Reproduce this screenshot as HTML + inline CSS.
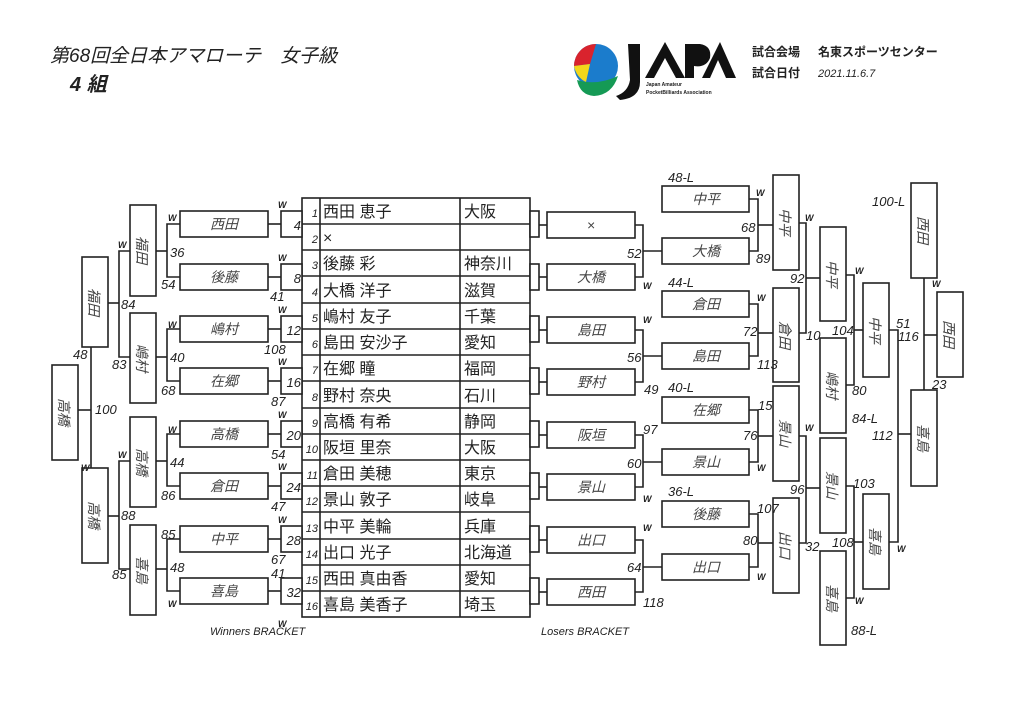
<!DOCTYPE html>
<html><head><meta charset="utf-8">
<style>
html,body{margin:0;padding:0;background:#fff;}
svg{display:block;}
.b{fill:#fff;stroke:#222;stroke-width:1.6;}
.l{stroke:#222;stroke-width:1.6;fill:none;}
.n{font-family:"Liberation Sans",sans-serif;font-style:italic;font-size:13px;fill:#222;}
.w{font-family:"Liberation Sans",sans-serif;font-style:italic;font-weight:bold;font-size:9px;fill:#222;}
.j{font-family:"Liberation Sans","Noto Sans CJK JP",sans-serif;font-size:14px;fill:#444;font-style:italic;}
.t{font-family:"Liberation Sans","Noto Sans CJK JP",sans-serif;font-size:16px;fill:#222;}
.s{font-family:"Liberation Sans",sans-serif;font-style:italic;font-size:11px;fill:#222;}
</style></head><body>
<svg width="1024" height="724" viewBox="0 0 1024 724" xmlns="http://www.w3.org/2000/svg">
<text x="50" y="62" font-family="Liberation Sans,Noto Sans CJK JP,sans-serif" font-size="19" font-style="italic" fill="#222">第68回全日本アマローテ　女子級</text>
<text x="70" y="91" font-family="Liberation Sans,Noto Sans CJK JP,sans-serif" font-size="20" font-style="italic" font-weight="bold" fill="#222">4 組</text>
<circle cx="596" cy="66" r="22" fill="#1b7ccc"/>
<path d="M596 44 A22 22 0 0 0 574 66 L590 64 Z" fill="#d9232d"/>
<path d="M574 66 L590 64 L586 82 A22 22 0 0 1 574 66Z" fill="#f3d71b"/>
<path d="M577 80 Q597 86 618 76 Q612 95 594 96 Q580 95 577 80Z" fill="#159a55"/>
<path d="M628 44 L640 44 L640 82 Q640 98 620 100 L616 96 Q628 92 630 80Z" fill="#111"/>
<path d="M645 78 L665 42 L685 78 L676 78 L665 58 L654 78Z" fill="#111"/>
<path d="M685 44 L700 44 Q712 46 710 58 Q706 68 694 66 L694 78 L685 78Z" fill="#111"/>
<path d="M702 78 L720 42 L736 78 L726 78 L718 60 L710 78Z" fill="#111"/>
<text x="646" y="86" font-family="Liberation Sans,sans-serif" font-size="5" font-weight="bold" fill="#222">Japan Amateur</text>
<text x="646" y="94" font-family="Liberation Sans,sans-serif" font-size="5" font-weight="bold" fill="#222">PocketBilliards Association</text>
<text x="752" y="56" font-family="Liberation Sans,Noto Sans CJK JP,sans-serif" font-size="12" font-weight="bold" fill="#222">試合会場</text>
<text x="818" y="56" font-family="Liberation Sans,Noto Sans CJK JP,sans-serif" font-size="12" font-weight="bold" fill="#222">名東スポーツセンター</text>
<text x="752" y="77" font-family="Liberation Sans,Noto Sans CJK JP,sans-serif" font-size="12" font-weight="bold" fill="#222">試合日付</text>
<text x="818" y="77" font-family="Liberation Sans,sans-serif" font-size="11" font-style="italic" fill="#222">2021.11.6.7</text>

<rect x="302" y="198" width="228" height="419" class="b"/>
<g class="l">
<line x1="320" y1="198" x2="320" y2="617"/><line x1="460" y1="198" x2="460" y2="617"/>
<line x1="302" y1="224" x2="530" y2="224"/><line x1="302" y1="250" x2="530" y2="250"/>
<line x1="302" y1="276" x2="530" y2="276"/><line x1="302" y1="303" x2="530" y2="303"/>
<line x1="302" y1="329" x2="530" y2="329"/><line x1="302" y1="355" x2="530" y2="355"/>
<line x1="302" y1="381" x2="530" y2="381"/><line x1="302" y1="408" x2="530" y2="408"/>
<line x1="302" y1="434" x2="530" y2="434"/><line x1="302" y1="460" x2="530" y2="460"/>
<line x1="302" y1="486" x2="530" y2="486"/><line x1="302" y1="512" x2="530" y2="512"/>
<line x1="302" y1="539" x2="530" y2="539"/><line x1="302" y1="565" x2="530" y2="565"/>
<line x1="302" y1="591" x2="530" y2="591"/>
</g>
<g class="s" text-anchor="end">
<text x="318" y="217">1</text><text x="318" y="243">2</text><text x="318" y="269">3</text><text x="318" y="296">4</text>
<text x="318" y="322">5</text><text x="318" y="348">6</text><text x="318" y="374">7</text><text x="318" y="401">8</text>
<text x="318" y="427">9</text><text x="318" y="453">10</text><text x="318" y="479">11</text><text x="318" y="505">12</text>
<text x="318" y="532">13</text><text x="318" y="558">14</text><text x="318" y="584">15</text><text x="318" y="610">16</text>
</g>
<g class="t">
<text x="323" y="217">西田 恵子</text><text x="323" y="243">×</text><text x="323" y="269">後藤 彩</text><text x="323" y="296">大橋 洋子</text>
<text x="323" y="322">嶋村 友子</text><text x="323" y="348">島田 安沙子</text><text x="323" y="374">在郷 瞳</text><text x="323" y="401">野村 奈央</text>
<text x="323" y="427">高橋 有希</text><text x="323" y="453">阪垣 里奈</text><text x="323" y="479">倉田 美穂</text><text x="323" y="505">景山 敦子</text>
<text x="323" y="532">中平 美輪</text><text x="323" y="558">出口 光子</text><text x="323" y="584">西田 真由香</text><text x="323" y="610">喜島 美香子</text>
<text x="464" y="217">大阪</text><text x="464" y="269">神奈川</text><text x="464" y="296">滋賀</text>
<text x="464" y="322">千葉</text><text x="464" y="348">愛知</text><text x="464" y="374">福岡</text><text x="464" y="401">石川</text>
<text x="464" y="427">静岡</text><text x="464" y="453">大阪</text><text x="464" y="479">東京</text><text x="464" y="505">岐阜</text>
<text x="464" y="532">兵庫</text><text x="464" y="558">北海道</text><text x="464" y="584">愛知</text><text x="464" y="610">埼玉</text>
</g>

<g class="b">
<rect x="281" y="211" width="21" height="26"/><rect x="281" y="264" width="21" height="26"/>
<rect x="281" y="316" width="21" height="26"/><rect x="281" y="368" width="21" height="26"/>
<rect x="281" y="421" width="21" height="26"/><rect x="281" y="473" width="21" height="26"/>
<rect x="281" y="526" width="21" height="26"/><rect x="281" y="578" width="21" height="26"/>
</g>
<g class="n" text-anchor="end">
<text x="301" y="230">4</text><text x="301" y="283">8</text><text x="301" y="335">12</text><text x="301" y="387">16</text>
<text x="301" y="440">20</text><text x="301" y="492">24</text><text x="301" y="545">28</text><text x="301" y="597">32</text>
</g>
<g class="l">
<line x1="268" y1="224" x2="281" y2="224"/><line x1="268" y1="277" x2="281" y2="277"/>
<line x1="268" y1="329" x2="281" y2="329"/><line x1="268" y1="381" x2="281" y2="381"/>
<line x1="268" y1="434" x2="281" y2="434"/><line x1="268" y1="486" x2="281" y2="486"/>
<line x1="268" y1="539" x2="281" y2="539"/><line x1="268" y1="591" x2="281" y2="591"/>
</g>
<g class="b">
<rect x="180" y="211" width="88" height="26"/><rect x="180" y="264" width="88" height="26"/>
<rect x="180" y="316" width="88" height="26"/><rect x="180" y="368" width="88" height="26"/>
<rect x="180" y="421" width="88" height="26"/><rect x="180" y="473" width="88" height="26"/>
<rect x="180" y="526" width="88" height="26"/><rect x="180" y="578" width="88" height="26"/>
</g>
<g class="j" text-anchor="middle">
<text x="224" y="229">西田</text><text x="224" y="282">後藤</text><text x="224" y="334">嶋村</text><text x="224" y="386">在郷</text>
<text x="224" y="439">高橋</text><text x="224" y="491">倉田</text><text x="224" y="544">中平</text><text x="224" y="596">喜島</text>
</g>
<g class="l">
<polyline points="180,224 167,224 167,277 180,277"/><line x1="156" y1="251" x2="167" y2="251"/>
<polyline points="180,329 167,329 167,381 180,381"/><line x1="156" y1="357" x2="167" y2="357"/>
<polyline points="180,434 167,434 167,486 180,486"/><line x1="156" y1="461" x2="167" y2="461"/>
<polyline points="180,539 167,539 167,591 180,591"/><line x1="156" y1="569" x2="167" y2="569"/>
<polyline points="130,251 119,251 119,357 130,357"/><line x1="108" y1="303" x2="119" y2="303"/>
<polyline points="130,461 119,461 119,569 130,569"/><line x1="108" y1="516" x2="119" y2="516"/>
<line x1="91" y1="347" x2="91" y2="468"/><line x1="78" y1="410" x2="91" y2="410"/>
</g>
<g class="b">
<rect x="130" y="205" width="26" height="91"/><rect x="130" y="313" width="26" height="90"/>
<rect x="130" y="417" width="26" height="90"/><rect x="130" y="525" width="26" height="90"/>
<rect x="82" y="257" width="26" height="90"/><rect x="82" y="468" width="26" height="95"/>
<rect x="52" y="365" width="26" height="95"/>
</g>
<g class="j">
<text transform="translate(137,250) rotate(90)" text-anchor="middle">福田</text>
<text transform="translate(137,358) rotate(90)" text-anchor="middle">嶋村</text>
<text transform="translate(137,462) rotate(90)" text-anchor="middle">高橋</text>
<text transform="translate(137,570) rotate(90)" text-anchor="middle">喜島</text>
<text transform="translate(89,302) rotate(90)" text-anchor="middle">福田</text>
<text transform="translate(89,515) rotate(90)" text-anchor="middle">高橋</text>
<text transform="translate(59,412) rotate(90)" text-anchor="middle">高橋</text>
</g>
<g class="w">
<text x="278" y="208">W</text><text x="278" y="261">W</text><text x="278" y="313">W</text><text x="278" y="365">W</text>
<text x="278" y="418">W</text><text x="278" y="470">W</text><text x="278" y="523">W</text><text x="278" y="627">W</text>
<text x="168" y="221">W</text><text x="168" y="328">W</text><text x="168" y="433">W</text><text x="168" y="607">W</text>
<text x="118" y="248">W</text><text x="118" y="458">W</text><text x="81" y="471">W</text>
</g>
<g class="n">
<text x="270" y="301">41</text><text x="264" y="354">108</text><text x="271" y="406">87</text><text x="271" y="459">54</text>
<text x="271" y="511">47</text><text x="271" y="564">67</text><text x="271" y="578">41</text>
<text x="170" y="257">36</text><text x="161" y="289">54</text><text x="170" y="362">40</text><text x="161" y="395">68</text>
<text x="170" y="467">44</text><text x="161" y="500">86</text><text x="161" y="539">85</text><text x="170" y="572">48</text>
<text x="121" y="309">84</text><text x="112" y="369">83</text><text x="121" y="520">88</text><text x="112" y="579">85</text>
<text x="73" y="359">48</text><text x="95" y="414">100</text>
</g>
<text x="210" y="635" class="s" font-size="10">Winners BRACKET</text>
<text x="541" y="635" class="s" font-size="10">Losers BRACKET</text>

<g class="b">
<rect x="530" y="211" width="9" height="26"/><rect x="530" y="264" width="9" height="26"/>
<rect x="530" y="316" width="9" height="26"/><rect x="530" y="368" width="9" height="26"/>
<rect x="530" y="421" width="9" height="26"/><rect x="530" y="473" width="9" height="26"/>
<rect x="530" y="526" width="9" height="26"/><rect x="530" y="578" width="9" height="26"/>
<rect x="547" y="212" width="88" height="26"/><rect x="547" y="264" width="88" height="26"/>
<rect x="547" y="317" width="88" height="26"/><rect x="547" y="369" width="88" height="26"/>
<rect x="547" y="422" width="88" height="26"/><rect x="547" y="474" width="88" height="26"/>
<rect x="547" y="527" width="88" height="26"/><rect x="547" y="579" width="88" height="26"/>
</g>
<g class="j" text-anchor="middle">
<text x="591" y="230">×</text><text x="591" y="282">大橋</text><text x="591" y="335">島田</text><text x="591" y="387">野村</text>
<text x="591" y="440">阪垣</text><text x="591" y="492">景山</text><text x="591" y="545">出口</text><text x="591" y="597">西田</text>
</g>
<g class="l">
<line x1="539" y1="225" x2="547" y2="225"/><line x1="539" y1="277" x2="547" y2="277"/>
<line x1="539" y1="330" x2="547" y2="330"/><line x1="539" y1="382" x2="547" y2="382"/>
<line x1="539" y1="435" x2="547" y2="435"/><line x1="539" y1="487" x2="547" y2="487"/>
<line x1="539" y1="540" x2="547" y2="540"/><line x1="539" y1="592" x2="547" y2="592"/>
<polyline points="635,225 643,225 643,277 635,277"/><line x1="643" y1="251" x2="662" y2="251"/>
<polyline points="635,330 643,330 643,382 635,382"/><line x1="643" y1="356" x2="662" y2="356"/>
<polyline points="635,435 643,435 643,487 635,487"/><line x1="643" y1="462" x2="662" y2="462"/>
<polyline points="635,540 643,540 643,592 635,592"/><line x1="643" y1="567" x2="662" y2="567"/>
<polyline points="749,199 758,199 758,251 749,251"/><line x1="758" y1="225" x2="773" y2="225"/>
<polyline points="749,304 758,304 758,356 749,356"/><line x1="758" y1="333" x2="773" y2="333"/>
<polyline points="749,410 758,410 758,462 749,462"/><line x1="758" y1="436" x2="773" y2="436"/>
<polyline points="749,514 758,514 758,567 749,567"/><line x1="758" y1="543" x2="773" y2="543"/>
<polyline points="799,223 806,223 806,333 799,333"/><line x1="806" y1="278" x2="820" y2="278"/>
<polyline points="799,436 806,436 806,543 799,543"/><line x1="806" y1="488" x2="820" y2="488"/>
<polyline points="846,275 854,275 854,385 846,385"/><line x1="854" y1="330" x2="863" y2="330"/>
<polyline points="846,486 854,486 854,598 846,598"/><line x1="854" y1="542" x2="863" y2="542"/>
<polyline points="889,330 898,330 898,542 889,542"/><line x1="898" y1="434" x2="911" y2="434"/>
<line x1="924" y1="278" x2="924" y2="390"/><line x1="924" y1="335" x2="937" y2="335"/>
</g>
<g class="b">
<rect x="662" y="186" width="87" height="26"/><rect x="662" y="238" width="87" height="26"/>
<rect x="662" y="291" width="87" height="26"/><rect x="662" y="343" width="87" height="26"/>
<rect x="662" y="397" width="87" height="26"/><rect x="662" y="449" width="87" height="26"/>
<rect x="662" y="501" width="87" height="26"/><rect x="662" y="554" width="87" height="26"/>
<rect x="773" y="175" width="26" height="95"/><rect x="773" y="288" width="26" height="94"/>
<rect x="773" y="386" width="26" height="95"/><rect x="773" y="498" width="26" height="95"/>
<rect x="820" y="227" width="26" height="94"/><rect x="820" y="338" width="26" height="95"/>
<rect x="820" y="438" width="26" height="95"/><rect x="820" y="551" width="26" height="94"/>
<rect x="863" y="283" width="26" height="94"/><rect x="863" y="494" width="26" height="95"/>
<rect x="911" y="183" width="26" height="95"/><rect x="911" y="390" width="26" height="96"/>
<rect x="937" y="292" width="26" height="85"/>
</g>
<g class="j" text-anchor="middle">
<text x="706" y="204">中平</text><text x="706" y="256">大橋</text><text x="706" y="309">倉田</text><text x="706" y="361">島田</text>
<text x="706" y="415">在郷</text><text x="706" y="467">景山</text><text x="706" y="519">後藤</text><text x="706" y="572">出口</text>
</g>
<g class="j" text-anchor="middle">
<text transform="translate(780,222) rotate(90)">中平</text>
<text transform="translate(780,335) rotate(90)">倉田</text>
<text transform="translate(780,433) rotate(90)">景山</text>
<text transform="translate(780,545) rotate(90)">出口</text>
<text transform="translate(827,274) rotate(90)">中平</text>
<text transform="translate(827,385) rotate(90)">嶋村</text>
<text transform="translate(827,485) rotate(90)">景山</text>
<text transform="translate(827,598) rotate(90)">喜島</text>
<text transform="translate(870,330) rotate(90)">中平</text>
<text transform="translate(870,541) rotate(90)">喜島</text>
<text transform="translate(918,230) rotate(90)">西田</text>
<text transform="translate(918,438) rotate(90)">喜島</text>
<text transform="translate(944,334) rotate(90)">西田</text>
</g>
<g class="w">
<text x="643" y="289">W</text><text x="643" y="323">W</text><text x="643" y="502">W</text><text x="643" y="531">W</text>
<text x="756" y="196">W</text><text x="757" y="301">W</text><text x="757" y="471">W</text><text x="757" y="580">W</text>
<text x="805" y="221">W</text><text x="805" y="431">W</text><text x="855" y="274">W</text><text x="855" y="604">W</text>
<text x="897" y="552">W</text><text x="932" y="287">W</text>
</g>
<g class="n">
<text x="627" y="258">52</text><text x="627" y="362">56</text><text x="644" y="394">49</text>
<text x="643" y="434">97</text><text x="627" y="468">60</text><text x="627" y="572">64</text><text x="643" y="607">118</text>
<text x="668" y="182">48-L</text><text x="668" y="287">44-L</text><text x="668" y="392">40-L</text><text x="668" y="496">36-L</text>
<text x="741" y="232">68</text><text x="756" y="263">89</text><text x="743" y="336">72</text><text x="757" y="369">113</text>
<text x="758" y="410">15</text><text x="743" y="440">76</text><text x="757" y="513">107</text><text x="743" y="545">80</text>
<text x="790" y="283">92</text><text x="806" y="340">10</text><text x="790" y="494">96</text><text x="805" y="551">32</text>
<text x="832" y="335">104</text><text x="852" y="395">80</text><text x="852" y="423">84-L</text>
<text x="853" y="488">103</text><text x="832" y="547">108</text><text x="851" y="635">88-L</text>
<text x="872" y="206">100-L</text><text x="896" y="328">51</text><text x="898" y="341">116</text><text x="932" y="389">23</text>
<text x="872" y="440">112</text>
</g>
</svg>
</body></html>
